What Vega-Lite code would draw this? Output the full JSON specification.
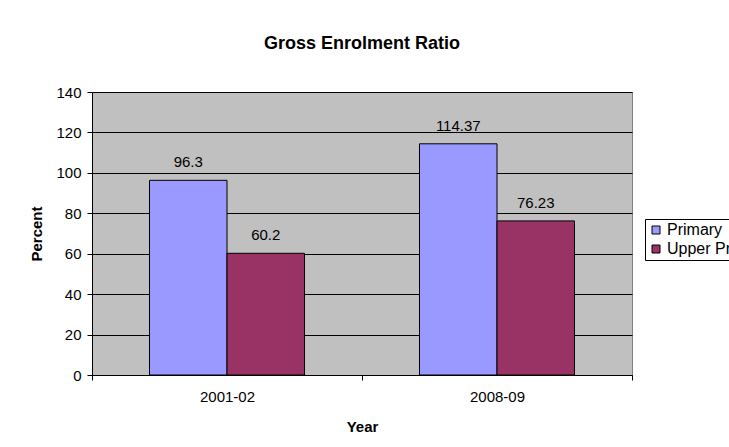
{
  "$schema": "https://vega.github.io/schema/vega-lite/v6.json",
  "width": 540,
  "height": 283,
  "autosize": {"type": "none"},
  "padding": {"left": 92, "top": 92, "right": 97, "bottom": 72},
  "background": "white",
  "config": {
    "font": "Liberation Sans",
    "view": {"fill": "#C0C0C0", "stroke": "#808080", "strokeWidth": 1}
  },
  "title": {
    "text": "Gross Enrolment Ratio",
    "fontSize": 18,
    "fontWeight": "bold",
    "color": "black",
    "anchor": "middle",
    "offset": 32
  },
  "data": {
    "values": [
      {"year": "2001-02", "series": "Primary", "value": 96.3, "label": "96.3"},
      {"year": "2001-02", "series": "Upper Primary", "value": 60.2, "label": "60.2"},
      {"year": "2008-09", "series": "Primary", "value": 114.37, "label": "114.37"},
      {"year": "2008-09", "series": "Upper Primary", "value": 76.23, "label": "76.23"}
    ]
  },
  "encoding": {
    "x": {
      "field": "year",
      "type": "nominal",
      "scale": {"paddingInner": 0, "paddingOuter": 0},
      "axis": {
        "title": "Year",
        "labelAngle": 0,
        "labelFontSize": 15,
        "labelColor": "black",
        "labelPadding": 9,
        "tickBand": "extent",
        "tickColor": "black",
        "tickSize": 5,
        "domainColor": "black",
        "titleFontSize": 15,
        "titleFontWeight": "bold",
        "titleColor": "black",
        "titlePadding": 15
      }
    },
    "xOffset": {
      "field": "series",
      "type": "nominal",
      "scale": {"paddingInner": 0, "paddingOuter": 0.742}
    },
    "y": {
      "field": "value",
      "type": "quantitative",
      "scale": {"domain": [0, 140]},
      "axis": {
        "title": "Percent",
        "values": [0, 20, 40, 60, 80, 100, 120, 140],
        "labelFontSize": 15,
        "labelColor": "black",
        "labelPadding": 6,
        "tickColor": "black",
        "tickSize": 5,
        "domainColor": "black",
        "grid": true,
        "gridColor": "black",
        "gridOpacity": 1,
        "titleFontSize": 15,
        "titleFontWeight": "bold",
        "titleColor": "black",
        "titlePadding": 11
      }
    }
  },
  "layer": [
    {
      "mark": {"type": "bar", "stroke": "black", "strokeWidth": 1},
      "encoding": {
        "color": {
          "field": "series",
          "type": "nominal",
          "scale": {"domain": ["Primary", "Upper Primary"], "range": ["#9999FF", "#993366"]},
          "legend": {
            "title": null,
            "orient": "none",
            "legendX": 553,
            "legendY": 127,
            "strokeColor": "black",
            "padding": 3,
            "symbolType": "square",
            "symbolSize": 64,
            "symbolStrokeColor": "black",
            "symbolStrokeWidth": 1,
            "labelFontSize": 16,
            "labelColor": "black",
            "labelOffset": 3,
            "rowPadding": 3
          }
        }
      }
    },
    {
      "mark": {"type": "text", "dy": -13, "fontSize": 15, "color": "black", "baseline": "alphabetic"},
      "encoding": {"text": {"field": "label"}}
    }
  ]
}
